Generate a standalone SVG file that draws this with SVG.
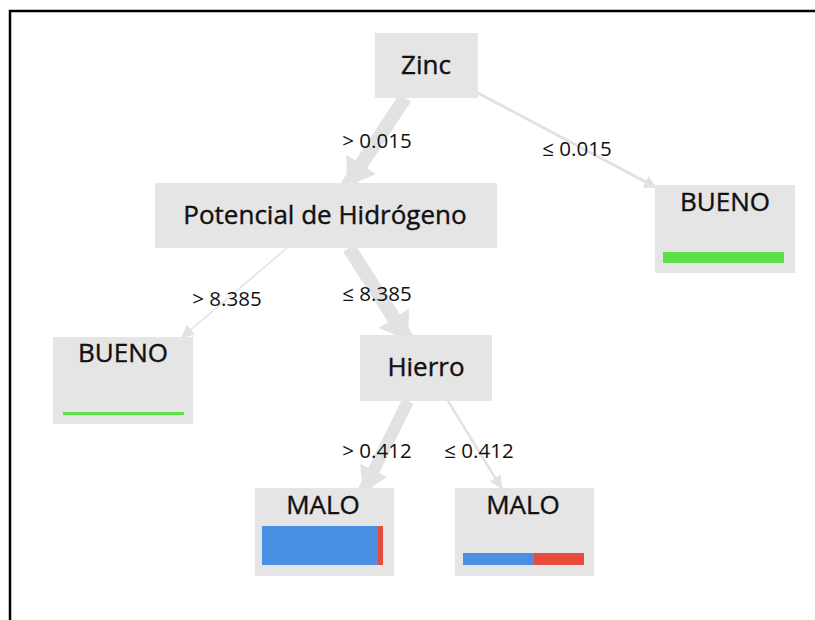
<svg xmlns="http://www.w3.org/2000/svg" width="815" height="620" viewBox="0 0 815 620">
<defs>
<style>
.box{fill:#e5e5e5}
.nt{font-family:"Open Sans","Noto Sans",sans-serif;font-size:26px;fill:#111;stroke:#111;stroke-width:0.4;text-anchor:middle}
.lt{font-family:"Open Sans","Noto Sans",sans-serif;font-size:20.5px;fill:#111;text-anchor:middle}
.e{stroke:#e2e2e2;fill:none}
.green{fill:#5fe04a}
.blue{fill:#4a90e2}
.red{fill:#e74c3c}
</style>
<marker id="big" viewBox="0 0 26 36" markerWidth="26" markerHeight="36" refX="26" refY="18" orient="auto" markerUnits="userSpaceOnUse"><path d="M0,0 L26,18 L0,36 z" fill="#e2e2e2"/></marker>
<marker id="mid" viewBox="0 0 24 30" markerWidth="24" markerHeight="30" refX="24" refY="15" orient="auto" markerUnits="userSpaceOnUse"><path d="M0,0 L24,15 L0,30 z" fill="#e2e2e2"/></marker>
<marker id="small" viewBox="0 0 13 13" markerWidth="13" markerHeight="13" refX="13" refY="6.5" orient="auto" markerUnits="userSpaceOnUse"><path d="M0,0 L13,6.5 L0,13 z" fill="#e2e2e2"/></marker>
</defs>
<rect width="815" height="620" fill="#ffffff"/>
<path d="M10,620 V11 H815" fill="none" stroke="#000" stroke-width="2.5"/>
<g id="connectors">
<line class="e" x1="405" y1="98" x2="347" y2="186" stroke-width="14" marker-end="url(#big)"/>
<line class="e" x1="478" y1="93" x2="657" y2="188" stroke-width="3" marker-end="url(#small)"/>
<line class="e" x1="287" y1="248" x2="181" y2="338" stroke-width="1.5" stroke="#ebebeb" marker-end="url(#small)"/>
<line class="e" x1="349" y1="248" x2="408" y2="340" stroke-width="14" marker-end="url(#big)"/>
<line class="e" x1="408" y1="401" x2="363" y2="492" stroke-width="12" marker-end="url(#mid)"/>
<line class="e" x1="448" y1="401" x2="502" y2="489" stroke-width="2.5" marker-end="url(#small)"/>
<text class="lt" x="377" y="148">&gt; 0.015</text>
<text class="lt" x="577" y="156">≤ 0.015</text>
<text class="lt" x="227" y="306">&gt; 8.385</text>
<text class="lt" x="377" y="301">≤ 8.385</text>
<text class="lt" x="377" y="458">&gt; 0.412</text>
<text class="lt" x="479" y="458">≤ 0.412</text>
</g>
<g id="zinc">
<rect class="box" x="375" y="33" width="103" height="65"/>
<text class="nt" x="426" y="74">Zinc</text>
</g>
<g id="potencial">
<rect class="box" x="155" y="183" width="342" height="65"/>
<text class="nt" x="325" y="224">Potencial de Hidrógeno</text>
</g>
<g id="bueno-right">
<rect class="box" x="655" y="185" width="140" height="88"/>
<text class="nt" x="725" y="211">BUENO</text>
<rect class="green" x="663" y="252" width="121" height="11"/>
</g>
<g id="bueno-left">
<rect class="box" x="53" y="337" width="140" height="87"/>
<text class="nt" x="123" y="362">BUENO</text>
<rect class="green" x="63" y="412" width="121" height="3"/>
</g>
<g id="hierro">
<rect class="box" x="360" y="335" width="132" height="66"/>
<text class="nt" x="426" y="376">Hierro</text>
</g>
<g id="malo-left">
<rect class="box" x="255" y="488" width="139" height="88"/>
<text class="nt" x="323" y="514">MALO</text>
<rect class="blue" x="262" y="526" width="116" height="39"/>
<rect class="red" x="378" y="526" width="5" height="39"/>
</g>
<g id="malo-right">
<rect class="box" x="455" y="488" width="139" height="88"/>
<text class="nt" x="523" y="514">MALO</text>
<rect class="blue" x="463" y="553" width="71" height="12"/>
<rect class="red" x="534" y="553" width="50" height="12"/>
</g>
</svg>
